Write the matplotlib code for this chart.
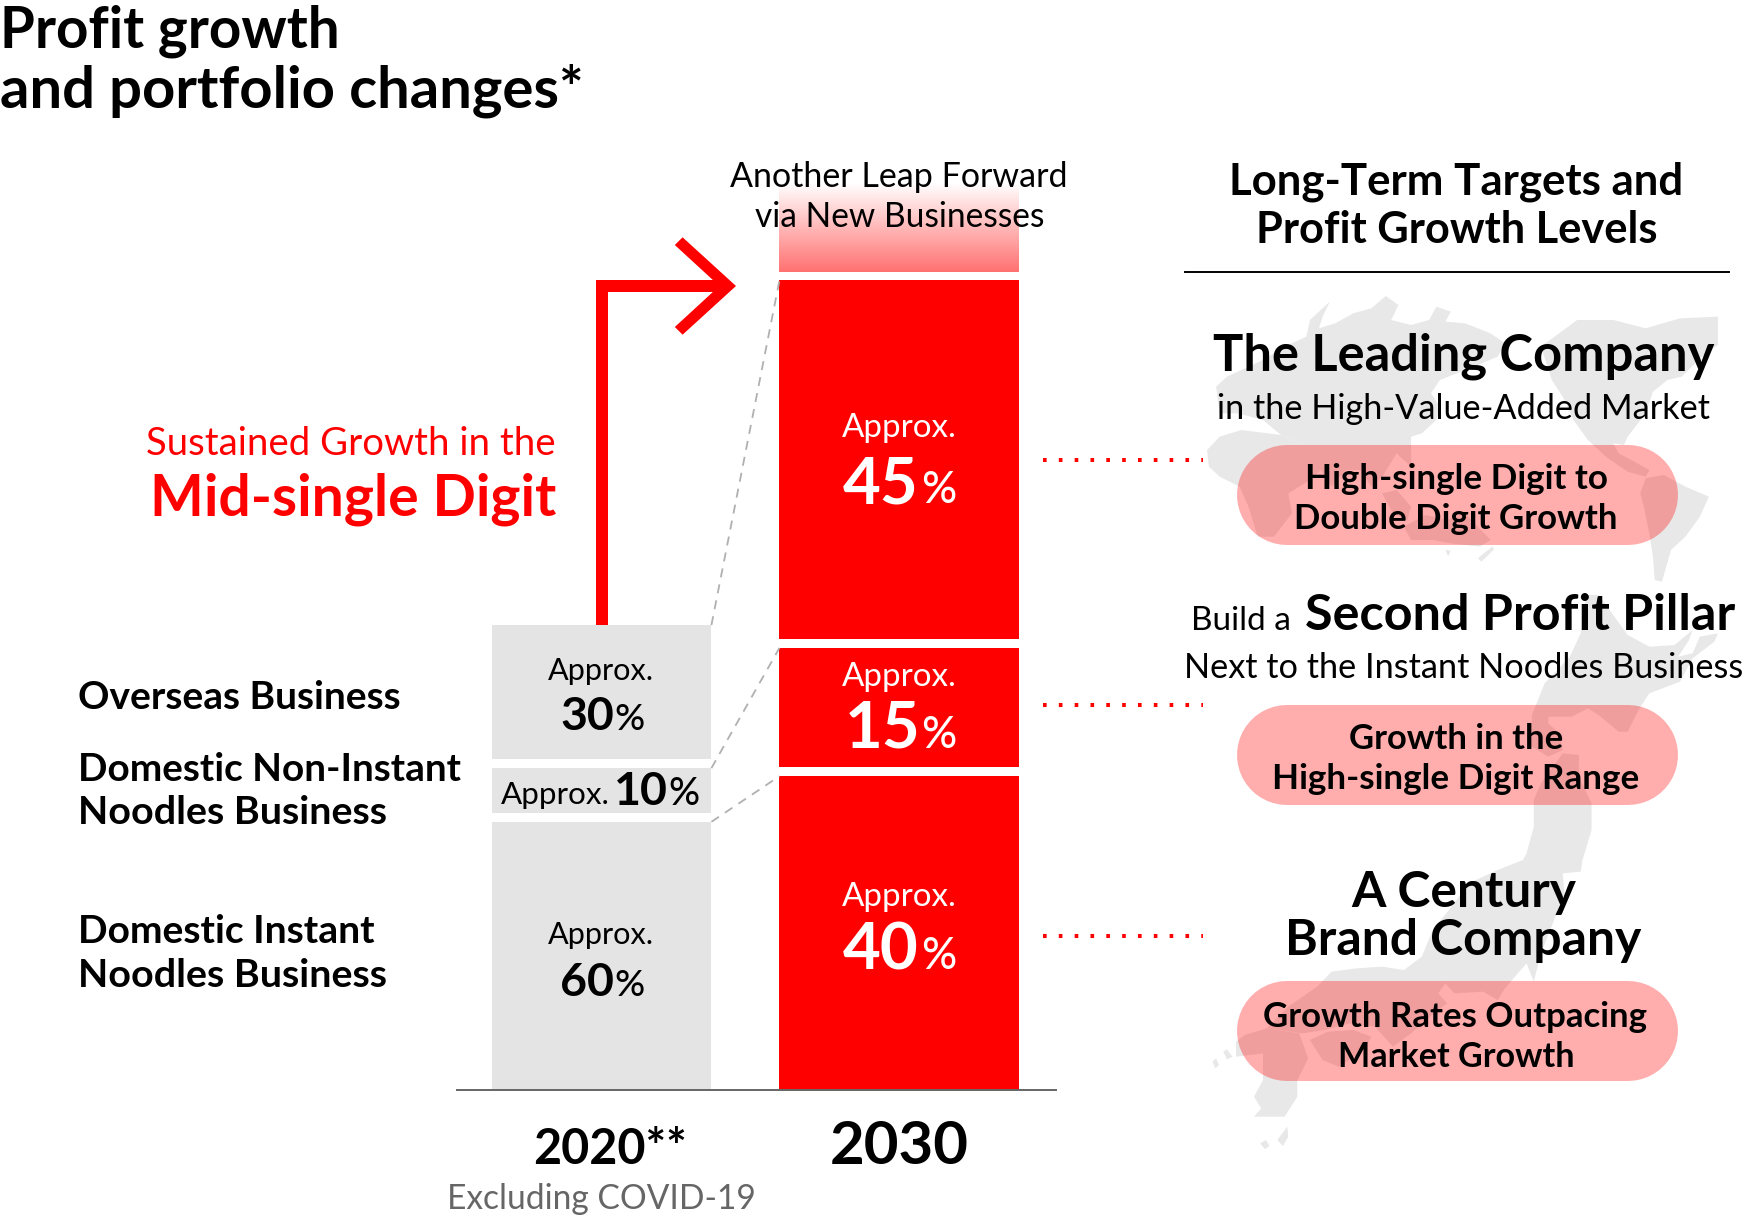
#! /usr/bin/env python3

'''
Profit growth and portfolio changes: two stacked bars with the long-term
targets on the right and a grey map behind them.
'''

import numpy as np
import matplotlib
matplotlib.use('Agg')
import matplotlib.pyplot as plt
from matplotlib.patches import Polygon

plt.rcParams['font.family'] = ['Lato', 'DejaVu Sans']

RED = '#ff0000'
GREY = '#e4e4e4'
MAP = '#e8e8e8'

years = ['2020**', '2030']
shares_2020 = [60, 10, 30]
shares_2030 = [40, 15, 45]
# bar heights as drawn, 2020 total = 100
heights_2020 = [60, 10, 30]
heights_2030 = [70.2, 26.7, 80.2]
height_new_business = 20
gap = 2.0
businesses = ['Domestic Instant\nNoodles Business',
              'Domestic Non-Instant\nNoodles Business',
              'Overseas Business']

W, H = 1746, 1220
fig = plt.figure(figsize=(W / 100, H / 100), dpi=100)

# overlay in image pixels, y going down
over = fig.add_axes([0, 0, 1, 1], zorder=1)
over.set_xlim(0, W)
over.set_ylim(H, 0)
over.axis('off')

# bars: 1 height unit = 4.47 px, categories 297.4 px apart
BASE = 1090
XLIM = (-0.4886, 1.526)
YLIM = (0, 920 / 4.47)
WIDTH_2020 = 0.7374
WIDTH_2030 = 0.805
ax = fig.add_axes([456.5 / W, (H - BASE) / H, 599 / W, 920 / H], zorder=2)
ax.patch.set_alpha(0)
ax.set_xticks([])
ax.set_yticks([])
for spine in 'left', 'right', 'top':
    ax.spines[spine].set_visible(False)
ax.spines['bottom'].set_color('#666666')
ax.spines['bottom'].set_linewidth(1.4)

top = fig.add_axes([0, 0, 1, 1], zorder=3)
top.set_xlim(0, W)
top.set_ylim(H, 0)
top.axis('off')
top.patch.set_alpha(0)


def stack(x, heights, width, color):
    tops = []
    bottom = 0
    for h in heights:
        ax.bar(x, h, width, bottom=bottom, color=color, linewidth=0)
        tops.append(bottom + h)
        bottom += h + gap
    return tops


tops_2020 = stack(0, heights_2020, WIDTH_2020, GREY)
tops_2030 = stack(1, heights_2030, WIDTH_2030, RED)

# fading block for the new businesses
fade = np.zeros((128, 2, 4))
fade[..., 0] = 1
fade[..., 3] = np.linspace(0.56, 0, 128)[:, None]
fade_bottom = tops_2030[-1] + gap
ax.imshow(fade, origin='lower', aspect='auto', interpolation='bilinear',
          extent=(1 - WIDTH_2030 / 2, 1 + WIDTH_2030 / 2,
                  fade_bottom, fade_bottom + height_new_business))
ax.set_xlim(*XLIM)
ax.set_ylim(*YLIM)

# dashed links between the two stacks
for t20, t30 in zip(tops_2020, tops_2030):
    ax.plot([WIDTH_2020 / 2, 1 - WIDTH_2030 / 2], [t20, t30],
            color='#b0b0b0', lw=1.3, dashes=(5, 4))


# map behind the right column
def z4(pts):
    return [(1180 + x / 2.77, 280 + y / 3) for x, y in pts]


def z5(pts):
    return [(1180 + x / 2.77, 620 + y / 3) for x, y in pts]


def z6(pts):
    return [(1180 + x / 2.77, 860 + y / 3) for x, y in pts]


land = [
    # Eurasia
    z4([(100, 320), (130, 290), (170, 270), (230, 240), (290, 200), (350, 170),
        (360, 120), (415, 65), (395, 110), (385, 145), (430, 130), (480, 100),
        (530, 85), (570, 48), (605, 75), (585, 120), (640, 135), (690, 120),
        (710, 80), (750, 95), (735, 125), (790, 130), (860, 160), (900, 190),
        (880, 230), (790, 270), (720, 300), (695, 340), (720, 380), (710, 420),
        (670, 460), (640, 470), (640, 560), (600, 520), (560, 590), (530, 620),
        (500, 570), (460, 570), (420, 620), (385, 560), (340, 490), (280, 465),
        (230, 420), (160, 400), (110, 400)]),
    # Africa
    z4([(75, 510), (110, 470), (170, 450), (280, 465), (340, 490), (400, 560),
        (360, 600), (300, 640), (310, 700), (260, 770), (215, 770), (190, 680),
        (165, 620), (110, 590), (80, 560)]),
    # islands and Australia
    z4([(560, 640), (600, 630), (640, 680), (630, 720), (590, 700)]),
    z4([(620, 740), (680, 705), (740, 720), (790, 700), (860, 780), (830, 800),
        (750, 790), (700, 780), (640, 780)]),
    z4([(735, 810), (750, 812), (743, 828)]),
    z4([(825, 835), (865, 800), (870, 808), (835, 845)]),
    # Americas
    z4([(1000, 200), (1100, 120), (1200, 120), (1290, 145), (1385, 115),
        (1490, 110), (1490, 195), (1440, 235), (1390, 290), (1350, 300),
        (1310, 335), (1290, 400), (1240, 470), (1230, 495), (1200, 490),
        (1215, 520), (1250, 540), (1300, 570), (1290, 590), (1240, 575),
        (1180, 530), (1130, 480), (1090, 420), (1060, 350), (1030, 300)]),
    z4([(1290, 595), (1340, 585), (1400, 620), (1465, 650), (1440, 710),
        (1400, 770), (1360, 810), (1335, 905), (1315, 900), (1310, 830),
        (1300, 760), (1285, 680), (1275, 640)]),
    # Hokkaido
    z5([(1110, 40), (1125, -75), (1160, -75), (1240, 45), (1300, 80), (1370, 75),
        (1420, 30), (1410, 60), (1380, 110), (1420, 100), (1440, 50), (1490, 40),
        (1480, 65), (1420, 115), (1385, 185), (1300, 220), (1270, 270),
        (1240, 335), (1215, 335), (1160, 285), (1130, 265), (1085, 290),
        (1020, 290), (1020, 310), (1050, 340), (1060, 390), (1020, 410),
        (975, 380), (975, 285), (1010, 190), (1080, 110)]),
    # Honshu
    z5([(1060, 400), (1105, 405), (1105, 470), (1140, 550), (1140, 630), (1115, 720)])
    + z6([(1110, 35), (1060, 40), (1065, 100), (1040, 170), (1000, 280), (980, 365),
          (960, 310), (900, 385), (880, 420), (840, 395), (760, 400), (735, 370),
          (715, 400), (740, 430), (680, 480), (640, 520), (590, 560), (540, 500),
          (470, 490), (400, 510), (340, 520), (240, 505), (300, 440), (380, 380),
          (420, 335), (490, 325), (560, 320), (620, 330), (670, 290), (700, 210),
          (745, 150), (800, 70), (880, 30), (950, 0)])
    + z5([(960, 700), (980, 620), (980, 540), (1000, 490)]),
    # Shikoku, Kyushu and small islands
    z6([(360, 540), (410, 515), (480, 510), (530, 530), (510, 570), (440, 620), (395, 600)]),
    z6([(180, 525), (240, 505), (330, 520), (355, 595), (325, 660), (325, 710),
        (290, 770), (240, 770), (205, 770), (225, 745), (205, 710), (230, 660),
        (230, 580), (155, 590), (155, 545)]),
    z6([(90, 605), (100, 595), (108, 615), (98, 625)]),
    z6([(120, 575), (130, 568), (145, 590), (130, 598)]),
    z6([(222, 850), (238, 840), (248, 858), (235, 867)]),
    z6([(270, 840), (297, 800), (300, 830), (285, 858)]),
]
for outline in land:
    over.add_patch(Polygon(outline, closed=True, facecolor=MAP, edgecolor='none'))

# target pills: a thick line with round caps, 100 px tall
for y0 in 445, 705, 981:
    over.plot([1287, 1628], [y0 + 50, y0 + 50], color=RED, alpha=0.32, lw=72,
              solid_capstyle='round')

# arrow
top.add_patch(Polygon([(596, 625), (596, 280), (723, 280), (723, 292), (608, 292), (608, 625)],
                      facecolor=RED, edgecolor='none'))
top.add_patch(Polygon([(736, 286), (682.6, 237.3), (674.8, 245), (719.4, 286),
                       (674.8, 327), (682.6, 334.7)], facecolor=RED, edgecolor='none'))

# dotted leaders
for y in 460, 705, 936:
    top.plot([1043, 1203], [y, y], color=RED, lw=2.9, dash_capstyle='butt',
             dashes=(0.9, 3.03))

top.plot([1185, 1729], [271.5, 271.5], color='black', lw=1.4)


def fit_text(s, x0, x1, y, weight=400, color='black', size=24):
    'Put s on baseline y and size it so it runs from x0 to x1 (pixels).'
    t = top.text((x0 + x1) / 2, y, s, ha='center', va='baseline',
                 fontsize=size, fontweight=weight, color=color)
    width = t.get_window_extent(fig.canvas.get_renderer()).width
    t.set_fontsize(size * (x1 - x0) / width)
    return t


# title
fit_text('Profit growth', 0, 340, 47, 700)
fit_text('and portfolio changes*', 0, 584, 107, 700)

# left column
fit_text('Sustained Growth in the', 146, 555.5, 455, 400, RED)
fit_text('Mid-single Digit', 149.5, 556, 515, 700, RED)
fit_text(businesses[2], 78, 401, 709, 700)
line1, line2 = businesses[1].split('\n')
fit_text(line1, 78, 461.5, 781, 700)
fit_text(line2, 78, 387, 824, 700)
line1, line2 = businesses[0].split('\n')
fit_text(line1, 78, 375.5, 943, 700)
fit_text(line2, 78, 387, 987, 700)

# grey bar labels
fit_text('Approx.', 548, 654.5, 680, 400)
fit_text(f'{shares_2020[2]}', 560, 614, 730, 700)
fit_text('%', 615, 645, 730, 500)
fit_text('Approx.', 501, 610, 804, 400)
fit_text(f'{shares_2020[1]}', 614, 668, 805, 700)
fit_text('%', 668, 699, 805, 500)
fit_text('Approx.', 548, 654.5, 944, 400)
fit_text(f'{shares_2020[0]}', 560, 614, 996, 700)
fit_text('%', 615, 645, 996, 500)

# red bar labels
fit_text('Approx.', 842, 957, 437, 400, 'white')
fit_text(f'{shares_2030[2]}', 843, 919, 503, 700, 'white')
fit_text('%', 921, 956, 503, 500, 'white')
fit_text('Approx.', 842, 957, 686, 400, 'white')
fit_text(f'{shares_2030[1]}', 845, 921, 748, 700, 'white')
fit_text('%', 921, 956, 748, 500, 'white')
fit_text('Approx.', 842, 957, 906, 400, 'white')
fit_text(f'{shares_2030[0]}', 843, 919, 969, 700, 'white')
fit_text('%', 921, 956, 969, 500, 'white')

fit_text('Another Leap Forward', 730, 1068, 187)
fit_text('via New Businesses', 754.5, 1044, 227)

# years
fit_text(years[0], 533, 687, 1164, 700)
fit_text(years[1], 830, 969, 1164, 700)
fit_text('Excluding COVID-19', 447, 756, 1209, 400, '#666666')

# right column
fit_text('Long-Term Targets and', 1229, 1684, 195, 700)
fit_text('Profit Growth Levels', 1256, 1657, 243, 700)
fit_text('The Leading Company', 1213, 1714, 371, 700)
fit_text('in the High-Value-Added Market', 1217, 1710, 419, 400)
fit_text('High-single Digit to', 1304, 1608, 489, 700)
fit_text('Double Digit Growth', 1294, 1618, 529, 700)
fit_text('Build a', 1191, 1291, 630, 400)
fit_text('Second Profit Pillar', 1305, 1736, 630, 700)
fit_text('Next to the Instant Noodles Business', 1184, 1743, 678, 400)
fit_text('Growth in the', 1349, 1563, 749, 700)
fit_text('High-single Digit Range', 1272, 1640, 789, 700)
fit_text('A Century', 1351, 1576, 907, 700)
fit_text('Brand Company', 1285, 1642, 955, 700)
fit_text('Growth Rates Outpacing', 1263, 1647, 1027, 700)
fit_text('Market Growth', 1338, 1574, 1067, 700)

fig.savefig('out.png', dpi=100)
